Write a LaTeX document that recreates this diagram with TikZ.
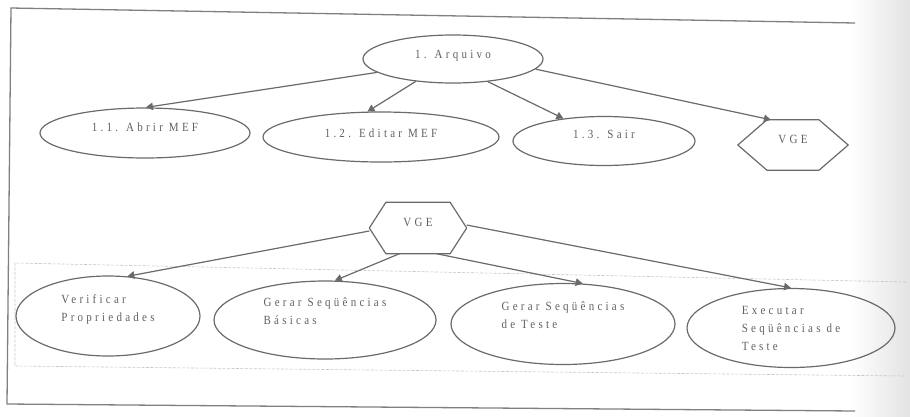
\documentclass[tikz,border=0pt]{standalone}
\usepackage{fontspec}
\setmainfont{Liberation Serif}
\newfontfamily\lspfont[LetterSpace=26,FakeStretch=0.88]{Liberation Serif}
\usetikzlibrary{arrows.meta,calc,shapes.geometric}
\definecolor{ink}{HTML}{6A6A6A}
\definecolor{txt}{HTML}{606060}
\begin{document}
\begin{tikzpicture}[x=1pt,y=-1pt,
  ell/.style={ellipse, draw=ink, line width=1.2pt, inner sep=0pt,
    font=\lspfont\fontsize{12.5}{18}\selectfont, text=txt, align=left},
  hexbox/.style={rectangle, inner sep=0pt,
    font=\lspfont\fontsize{12.5}{18}\selectfont, text=txt},
  hexline/.style={draw=ink, line width=1.2pt, line join=round},
  conn/.style={draw=ink, line width=1.2pt, -{Triangle[length=7pt,width=7.5pt]}},
  framel/.style={draw=ink!85, line width=1.3pt},
  dashbox/.style={draw=gray!45, line width=0.6pt, dash pattern=on 3pt off 1.5pt}]

\useasboundingbox (0,0) rectangle (910,416);
\fill[left color=white, right color=gray!22, draw=none] (850,0) rectangle (910,416);

% frame
\draw[framel] (855,23) -- (11,8) -- (7,404) -- (855,411);
% dashed group box
\draw[dashbox] (906,282) -- (15,263) -- (15,366) -- (906,376);

% top level
\node[ell, minimum width=180pt, minimum height=48pt, text depth=9pt] (arq) at (453,59) {1. Arquivo};
\node[ell, minimum width=210pt, minimum height=50pt, text depth=12pt] (abrir) at (145,133) {1.1. Abrir MEF};
\node[ell, minimum width=236pt, minimum height=50pt, text depth=7pt] (editar) at (381,137) {1.2. Editar MEF};
\node[ell, minimum width=182pt, minimum height=49pt, text depth=13pt] (sair) at (604,141) {1.3. Sair};
\node[hexbox, minimum width=110pt, minimum height=50pt, text depth=11pt] (vgea) at (793,145) {VGE};
\draw[hexline] (vgea.west) -- ($(vgea.north west)!0.264!(vgea.north east)$)
  -- ($(vgea.north west)!0.736!(vgea.north east)$) -- (vgea.east)
  -- ($(vgea.south west)!0.736!(vgea.south east)$)
  -- ($(vgea.south west)!0.264!(vgea.south east)$) -- cycle;

\draw[conn] (arq.190) -- (abrir.88);
\draw[conn] (arq.211) -- (editar.118);
\draw[conn] (arq.327) -- (sair.151);
\draw[conn] (arq.353) -- ($(vgea.north west)!0.3!(vgea.north east)$);

% second level
\node[hexbox, minimum width=97pt, minimum height=51pt, text depth=12pt] (vgeb) at (418,228) {VGE};
\draw[hexline] (vgeb.west) -- ($(vgeb.north west)!0.17!(vgeb.north east)$)
  -- ($(vgeb.north west)!0.83!(vgeb.north east)$) -- (vgeb.east)
  -- ($(vgeb.south west)!0.83!(vgeb.south east)$)
  -- ($(vgeb.south west)!0.17!(vgeb.south east)$) -- cycle;

\node[ell, minimum width=184pt, minimum height=80pt, text depth=16pt] (verif) at (108,316) {Verificar\\Propriedades};
\node[ell, minimum width=222pt, minimum height=78pt, text depth=17pt] (bas) at (325,320) {Gerar Seqüências\\Básicas};
\node[ell, minimum width=224pt, minimum height=81pt, text depth=18pt] (teste) at (563,324) {Gerar Seqüências\\de Teste};
\node[ell, minimum width=208pt, minimum height=79pt] (exe) at (791,328) {Executar\\Seqüências de\\Teste};

\draw[conn] ($(vgeb.west)+(0,3)$) -- (verif.64);
\draw[conn] ($(vgeb.south west)!0.31!(vgeb.south east)$) -- (bas.76);
\draw[conn] ($(vgeb.south west)!0.69!(vgeb.south east)$) -- (teste.64);
\draw[conn] ($(vgeb.east)+(0,-3)$) -- (exe.90);
\end{tikzpicture}
\end{document}
